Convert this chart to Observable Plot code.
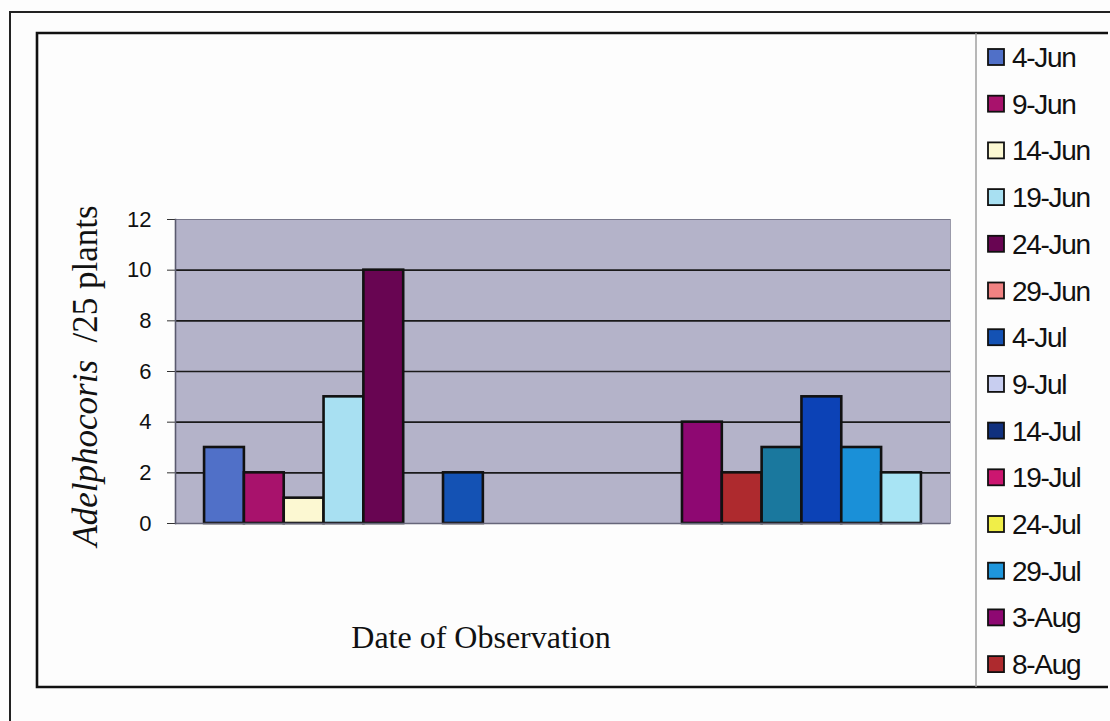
<!DOCTYPE html>
<html>
<head>
<meta charset="utf-8">
<script src="https://cdn.jsdelivr.net/npm/d3@7"></script>
<script src="https://cdn.jsdelivr.net/npm/@observablehq/plot@0.6"></script>
<style>
  html, body { margin: 0; padding: 0; background: #fdfdfd; }
  #chart { position: relative; width: 1110px; height: 721px; overflow: hidden; }
</style>
</head>
<body>
<div id="chart"></div>
<script>
// Series (observation dates) — one category, 18 series
const seriesNames = ["4-Jun","9-Jun","14-Jun","19-Jun","24-Jun","29-Jun","4-Jul","9-Jul","14-Jul","19-Jul","24-Jul","29-Jul","3-Aug","8-Aug","13-Aug","18-Aug","23-Aug","28-Aug"];
const counts = [3, 2, 1, 5, 10, 0, 2, 0, 0, 0, 0, 0, 4, 2, 3, 5, 3, 2];
const seriesColors = ["#5070c8","#a8126c","#fcf8d2","#a8e0f2","#680552","#f08282","#1452b4","#c8cef0","#10307e","#cc1670","#f0ee48","#1e96dc","#8e0872","#ae2a2e","#1a789e","#0c42b6","#1a90d8","#a8e4f4"];
const legendShown = seriesNames.slice(0, 14); // legend is truncated in the original
const yTicks = [0, 2, 4, 6, 8, 10, 12];
const gridValues = [2, 4, 6, 8, 10];

const data = seriesNames.map((s, i) => ({series: s, count: counts[i]}));

const plot = Plot.plot({
  width: 1110,
  height: 721,
  marginLeft: 175,
  marginRight: 160,
  marginTop: 219,
  marginBottom: 198,
  style: {background: "transparent", fontFamily: "'Liberation Sans', Arial, sans-serif", fontSize: "22px", color: "#111"},
  x: {type: "band", domain: seriesNames, paddingInner: 0, paddingOuter: 0.73, round: false, axis: null},
  y: {domain: [0, 12], axis: null},
  color: {type: "ordinal", domain: seriesNames, range: seriesColors},
  marks: [
    Plot.frame({fill: "#b4b3c9", stroke: null}),
    Plot.ruleY(gridValues, {stroke: "#1a1a1a", strokeWidth: 1.6}),
    Plot.ruleY([12], {stroke: "#77778a", strokeWidth: 1.2}),
    Plot.barY(data, {x: "series", y: "count", fill: "series", stroke: "#111", strokeWidth: 2.6, filter: d => d.count > 0}),
    Plot.axisY({ticks: yTicks, tickSize: 8, tickPadding: 16, fontSize: 22, label: null, stroke: "#333", tickFormat: d => String(d), color: "#111"}),
    Plot.ruleY([0], {stroke: "#66667a", strokeWidth: 1.6}),
    Plot.frame({anchor: "left", stroke: "#5a5a6e", strokeWidth: 1.6}),
    Plot.frame({anchor: "right", stroke: "#9a9aaa", strokeWidth: 1})
  ]
});

const svg = d3.select(plot);
const color = plot.scale("color");
svg.selectAll("g[aria-label='y-axis tick label']").attr("font-size", 22);
svg.selectAll("g[aria-label='y-axis tick label'] text").attr("font-size", 22);

// Outer and inner chart borders
svg.append("path").attr("d", "M10,760 L10,12 L1115,12").attr("fill", "none").attr("stroke", "#222").attr("stroke-width", 2);
svg.append("path").attr("d", "M1108,33 L37,33 L37,687 L1108,687").attr("fill", "none").attr("stroke", "#111").attr("stroke-width", 2.6);
// Legend separator
svg.append("line").attr("x1", 976).attr("x2", 976).attr("y1", 33).attr("y2", 687).attr("stroke", "#999").attr("stroke-width", 1.4);

// Axis titles
svg.append("text")
  .attr("x", 481).attr("y", 648)
  .attr("text-anchor", "middle")
  .attr("font-family", "'Liberation Serif', 'Times New Roman', serif")
  .attr("font-size", 32).attr("fill", "#111")
  .text("Date of Observation");

const yl = svg.append("text")
  .attr("transform", "translate(97,376) rotate(-90)")
  .attr("text-anchor", "middle")
  .attr("font-family", "'Liberation Serif', 'Times New Roman', serif")
  .attr("font-size", 35).attr("fill", "#111");
yl.append("tspan").attr("font-style", "italic").text("Adelphocoris");
yl.append("tspan").text("\u00a0 /25 plants");

// Legend
const lg = svg.append("g").attr("font-family", "'Liberation Sans', Arial, sans-serif").attr("font-size", 28).attr("fill", "#111").attr("text-anchor", "start");
legendShown.forEach((s, i) => {
  const cy = 57 + i * 46.7;
  lg.append("rect").attr("x", 988).attr("y", cy - 8).attr("width", 16).attr("height", 16)
    .attr("fill", color.apply(s)).attr("stroke", "#111").attr("stroke-width", 1.8);
  lg.append("text").attr("x", 1012).attr("y", cy + 10).attr("letter-spacing", -1.3).text(s);
});

document.getElementById("chart").appendChild(plot);
</script>
</body>
</html>
